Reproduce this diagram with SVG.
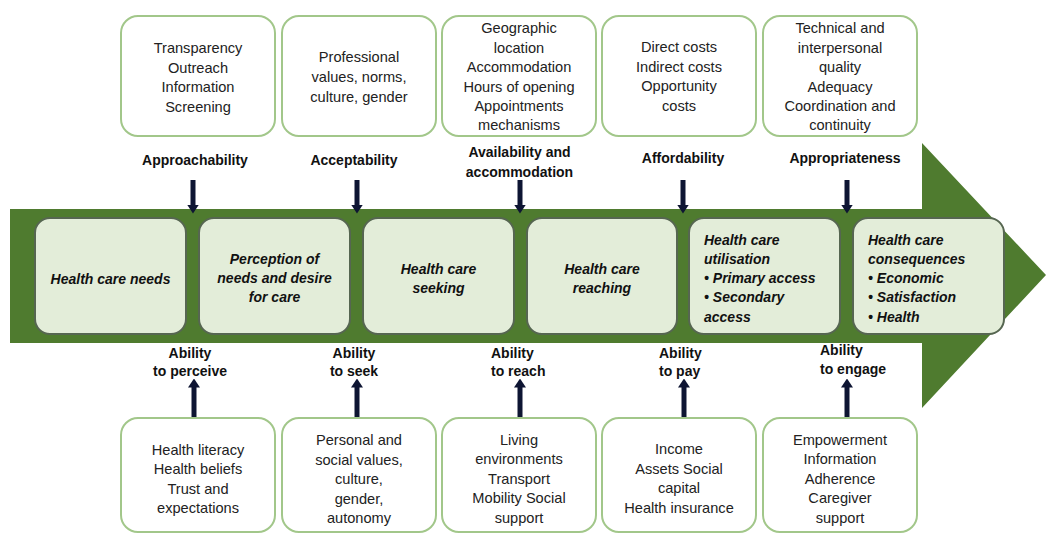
<svg xmlns="http://www.w3.org/2000/svg" width="1046" height="534" viewBox="0 0 1046 534">
<defs>
<style>
.tb{fill:#ffffff;stroke:#a2c78a;stroke-width:2}
.nd{fill:#e3edd9;stroke:#566651;stroke-width:2}
.t{font-family:"Liberation Sans",Arial,sans-serif;font-size:14.6px;fill:#222;text-anchor:middle}
.lb{font-family:"Liberation Sans",Arial,sans-serif;font-size:14px;font-weight:bold;fill:#111;text-anchor:middle}
.ls{text-anchor:start}
.n{font-family:"Liberation Sans",Arial,sans-serif;font-size:14px;font-weight:bold;font-style:italic;fill:#111;text-anchor:middle}
.nl{text-anchor:start}
.ar{stroke:#0e1533;stroke-width:5;fill:none;marker-end:url(#ah)}
</style>
<marker id="ah" markerUnits="userSpaceOnUse" markerWidth="9" markerHeight="12" refX="0.5" refY="6" orient="auto">
<path d="M0,0 L9,6 L0,12 z" fill="#0e1533"/>
</marker>
</defs>
<rect width="1046" height="534" fill="#ffffff"/>

<g id="main-arrow">
<polygon points="10,209 922,209 922,143 1046,275 922,408 922,343 10,343" fill="#4f7b2f"/>
</g>

<g id="connectors">
<line class="ar" x1="193" y1="180" x2="193" y2="205"/>
<line class="ar" x1="357" y1="180" x2="357" y2="205"/>
<line class="ar" x1="520" y1="180" x2="520" y2="205"/>
<line class="ar" x1="683" y1="180" x2="683" y2="205"/>
<line class="ar" x1="847" y1="180" x2="847" y2="205"/>
<line class="ar" x1="194" y1="418" x2="194" y2="387"/>
<line class="ar" x1="357" y1="418" x2="357" y2="387"/>
<line class="ar" x1="520" y1="418" x2="520" y2="387"/>
<line class="ar" x1="684" y1="418" x2="684" y2="387"/>
<line class="ar" x1="847" y1="418" x2="847" y2="387"/>
</g>

<g id="node-needs">
<rect class="nd" x="35" y="218" width="151" height="116" rx="15"/>
<text class="n" x="110.5" y="283.5">Health care needs</text>
</g>
<g id="node-perception">
<rect class="nd" x="199" y="218" width="151" height="116" rx="15"/>
<text class="n" x="274.5" y="264">Perception of</text>
<text class="n" x="274.5" y="283">needs and desire</text>
<text class="n" x="274.5" y="302">for care</text>
</g>
<g id="node-seeking">
<rect class="nd" x="363" y="218" width="151" height="116" rx="15"/>
<text class="n" x="438.5" y="273.5">Health care</text>
<text class="n" x="438.5" y="292.5">seeking</text>
</g>
<g id="node-reaching">
<rect class="nd" x="527" y="218" width="150" height="116" rx="15"/>
<text class="n" x="602" y="273.5">Health care</text>
<text class="n" x="602" y="292.5">reaching</text>
</g>
<g id="node-utilisation">
<rect class="nd" x="689" y="218" width="151" height="116" rx="15"/>
<text class="n nl" x="704" y="244.5">Health care</text>
<text class="n nl" x="704" y="263.5">utilisation</text>
<text class="n nl" x="704" y="282.5">• Primary access</text>
<text class="n nl" x="704" y="302">• Secondary</text>
<text class="n nl" x="704" y="321.5">access</text>
</g>
<g id="node-consequences">
<rect class="nd" x="853" y="218" width="151" height="116" rx="15"/>
<text class="n nl" x="868" y="244.5">Health care</text>
<text class="n nl" x="868" y="263.5">consequences</text>
<text class="n nl" x="868" y="282.5">• Economic</text>
<text class="n nl" x="868" y="302">• Satisfaction</text>
<text class="n nl" x="868" y="321.5">• Health</text>
</g>

<g id="top-approachability">
<rect class="tb" x="121" y="16" width="154" height="120" rx="17"/>
<text class="t" x="198" y="53">Transparency</text>
<text class="t" x="198" y="72.5">Outreach</text>
<text class="t" x="198" y="92">Information</text>
<text class="t" x="198" y="111.5">Screening</text>
<text class="lb" x="195" y="165">Approachability</text>
</g>
<g id="top-acceptability">
<rect class="tb" x="282" y="16" width="154" height="120" rx="17"/>
<text class="t" x="359" y="62">Professional</text>
<text class="t" x="359" y="82">values, norms,</text>
<text class="t" x="359" y="101.5">culture, gender</text>
<text class="lb" x="354" y="165">Acceptability</text>
</g>
<g id="top-availability">
<rect class="tb" x="442" y="16" width="154" height="120" rx="17"/>
<text class="t" x="519" y="33">Geographic</text>
<text class="t" x="519" y="52.5">location</text>
<text class="t" x="519" y="72">Accommodation</text>
<text class="t" x="519" y="91.5">Hours of opening</text>
<text class="t" x="519" y="111">Appointments</text>
<text class="t" x="519" y="130">mechanisms</text>
<text class="lb" x="519.5" y="157">Availability and</text>
<text class="lb" x="519.5" y="177">accommodation</text>
</g>
<g id="top-affordability">
<rect class="tb" x="602" y="16" width="154" height="120" rx="17"/>
<text class="t" x="679" y="52">Direct costs</text>
<text class="t" x="679" y="71.5">Indirect costs</text>
<text class="t" x="679" y="91">Opportunity</text>
<text class="t" x="679" y="110.5">costs</text>
<text class="lb" x="683" y="163">Affordability</text>
</g>
<g id="top-appropriateness">
<rect class="tb" x="763" y="16" width="154" height="120" rx="17"/>
<text class="t" x="840" y="33">Technical and</text>
<text class="t" x="840" y="52.5">interpersonal</text>
<text class="t" x="840" y="72">quality</text>
<text class="t" x="840" y="91.5">Adequacy</text>
<text class="t" x="840" y="111">Coordination and</text>
<text class="t" x="840" y="130">continuity</text>
<text class="lb" x="845" y="163">Appropriateness</text>
</g>

<g id="bottom-perceive">
<text class="lb" x="190" y="358">Ability</text>
<text class="lb" x="190" y="376">to perceive</text>
<rect class="tb" x="121" y="418" width="154" height="114" rx="17"/>
<text class="t" x="198" y="454.5">Health literacy</text>
<text class="t" x="198" y="474">Health beliefs</text>
<text class="t" x="198" y="493.5">Trust and</text>
<text class="t" x="198" y="513">expectations</text>
</g>
<g id="bottom-seek">
<text class="lb" x="354" y="358">Ability</text>
<text class="lb" x="354" y="376">to seek</text>
<rect class="tb" x="282" y="418" width="154" height="114" rx="17"/>
<text class="t" x="359" y="445">Personal and</text>
<text class="t" x="359" y="464.5">social values,</text>
<text class="t" x="359" y="484">culture,</text>
<text class="t" x="359" y="503.5">gender,</text>
<text class="t" x="359" y="523">autonomy</text>
</g>
<g id="bottom-reach">
<text class="lb ls" x="491" y="358">Ability</text>
<text class="lb ls" x="491" y="376">to reach</text>
<rect class="tb" x="442" y="418" width="154" height="114" rx="17"/>
<text class="t" x="519" y="444.5">Living</text>
<text class="t" x="519" y="464">environments</text>
<text class="t" x="519" y="483.5">Transport</text>
<text class="t" x="519" y="503">Mobility Social</text>
<text class="t" x="519" y="522.5">support</text>
</g>
<g id="bottom-pay">
<text class="lb ls" x="659" y="358">Ability</text>
<text class="lb ls" x="659" y="376">to pay</text>
<rect class="tb" x="602" y="418" width="154" height="114" rx="17"/>
<text class="t" x="679" y="454">Income</text>
<text class="t" x="679" y="473.5">Assets Social</text>
<text class="t" x="679" y="493">capital</text>
<text class="t" x="679" y="512.5">Health insurance</text>
</g>
<g id="bottom-engage">
<text class="lb ls" x="820" y="355">Ability</text>
<text class="lb ls" x="820" y="373.5">to engage</text>
<rect class="tb" x="763" y="418" width="154" height="114" rx="17"/>
<text class="t" x="840" y="444.5">Empowerment</text>
<text class="t" x="840" y="464">Information</text>
<text class="t" x="840" y="483.5">Adherence</text>
<text class="t" x="840" y="503">Caregiver</text>
<text class="t" x="840" y="522.5">support</text>
</g>
</svg>
